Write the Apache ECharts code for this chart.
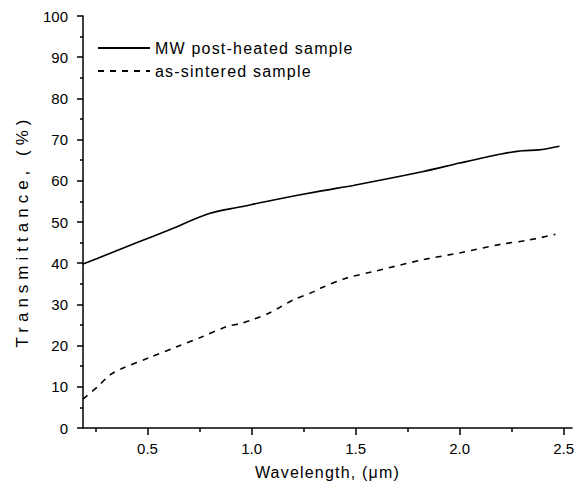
<!DOCTYPE html>
<html>
<head>
<meta charset="utf-8">
<script src="https://cdn.jsdelivr.net/npm/echarts@6/dist/echarts.min.js"></script>
<style>
html,body{margin:0;padding:0;background:#fff}
#c{width:578px;height:488px}
#c svg text[style*="17px"]{letter-spacing:5px}
#c svg text[style*="16px"]{letter-spacing:1.2px}
</style>
</head>
<body>
<div id="c"></div>
<script>
const seriesNames = ['MW post-heated sample', 'as-sintered sample'];
const mwX = [0.19, 0.30, 0.45, 0.60, 0.80, 0.95, 1.10, 1.33, 1.50, 1.82, 2.00, 2.20, 2.30, 2.38, 2.48];
const mwY = [39.8, 42.0, 45.0, 48.0, 52.1, 53.7, 55.3, 57.5, 59.0, 62.2, 64.3, 66.5, 67.3, 67.5, 68.4];
const asX = [0.19, 0.26, 0.32, 0.38, 0.51, 0.64, 0.77, 0.88, 0.95, 1.01, 1.08, 1.14, 1.20, 1.30, 1.33, 1.45, 1.58, 1.82, 2.01, 2.20, 2.33, 2.46];
const asY = [7.0, 10.0, 12.9, 14.5, 17.1, 19.7, 22.3, 24.6, 25.4, 26.4, 27.8, 29.4, 31.1, 33.1, 33.9, 36.3, 37.9, 40.8, 42.6, 44.6, 45.6, 47.0];
const xMajor = [0.5, 1.0, 1.5, 2.0, 2.5];
const xMinor = [0.25, 0.75, 1.25, 1.75, 2.25];
const xName = 'Wavelength, (\u03bcm)';
const yName = 'Transmittance, (%)';

const font = 'Liberation Sans, Arial, Helvetica, sans-serif';
const chart = echarts.init(document.getElementById('c'), null, { renderer: 'svg' });
const pair = (xs, ys) => xs.map((x, i) => [x, ys[i]]);
chart.setOption({
  animation: false,
  backgroundColor: '#fff',
  grid: { left: 83, right: 6, top: 16, bottom: 60 },
  legend: {
    orient: 'vertical', left: 97, top: 40, padding: 0, itemWidth: 52, itemHeight: 14, itemGap: 7,
    itemStyle: { opacity: 0 },
    textStyle: { fontFamily: font, fontSize: 16, color: '#000' },
    data: seriesNames
  },
  xAxis: [{
    type: 'value', min: 0.19, max: 2.54,
    axisLine: { lineStyle: { color: '#000', width: 1.5 } },
    axisTick: { show: true, customValues: xMajor, length: 7, lineStyle: { color: '#000', width: 1.5 } },
    axisLabel: { customValues: xMajor, margin: 13, fontFamily: font, fontSize: 15, color: '#000',
      formatter: v => v.toFixed(1) },
    splitLine: { show: false },
    name: xName, nameLocation: 'middle', nameGap: 36,
    nameTextStyle: { fontFamily: font, fontSize: 16, color: '#000' }
  }, {
    type: 'value', min: 0.19, max: 2.54, position: 'bottom',
    axisLine: { show: false },
    axisTick: { show: true, customValues: xMinor, length: 4, lineStyle: { color: '#000', width: 1.5 } },
    axisLabel: { show: false },
    splitLine: { show: false }
  }],
  yAxis: {
    type: 'value', min: 0, max: 100, interval: 10,
    axisLine: { show: true, lineStyle: { color: '#000', width: 1.5 } },
    axisTick: { show: true, length: 6, lineStyle: { color: '#000', width: 1.5 } },
    minorTick: { show: true, splitNumber: 2, length: 3, lineStyle: { color: '#000', width: 1.5 } },
    axisLabel: { margin: 15, fontFamily: font, fontSize: 15, color: '#000' },
    splitLine: { show: false },
    name: yName, nameLocation: 'middle', nameGap: 52,
    nameTextStyle: { fontFamily: font, fontSize: 17, color: '#000', padding: [0, 18, 0, 0] }
  },
  series: [{
    name: seriesNames[0], type: 'line', symbol: 'none', smooth: 0.3,
    data: pair(mwX, mwY),
    lineStyle: { color: '#000', width: 1.6, type: 'solid' },
    itemStyle: { color: '#000' }
  }, {
    name: seriesNames[1], type: 'line', symbol: 'none', smooth: 0.3,
    data: pair(asX, asY),
    lineStyle: { color: '#000', width: 1.6, type: [6, 6] },
    itemStyle: { color: '#000' }
  }]
});
</script>
</body>
</html>
